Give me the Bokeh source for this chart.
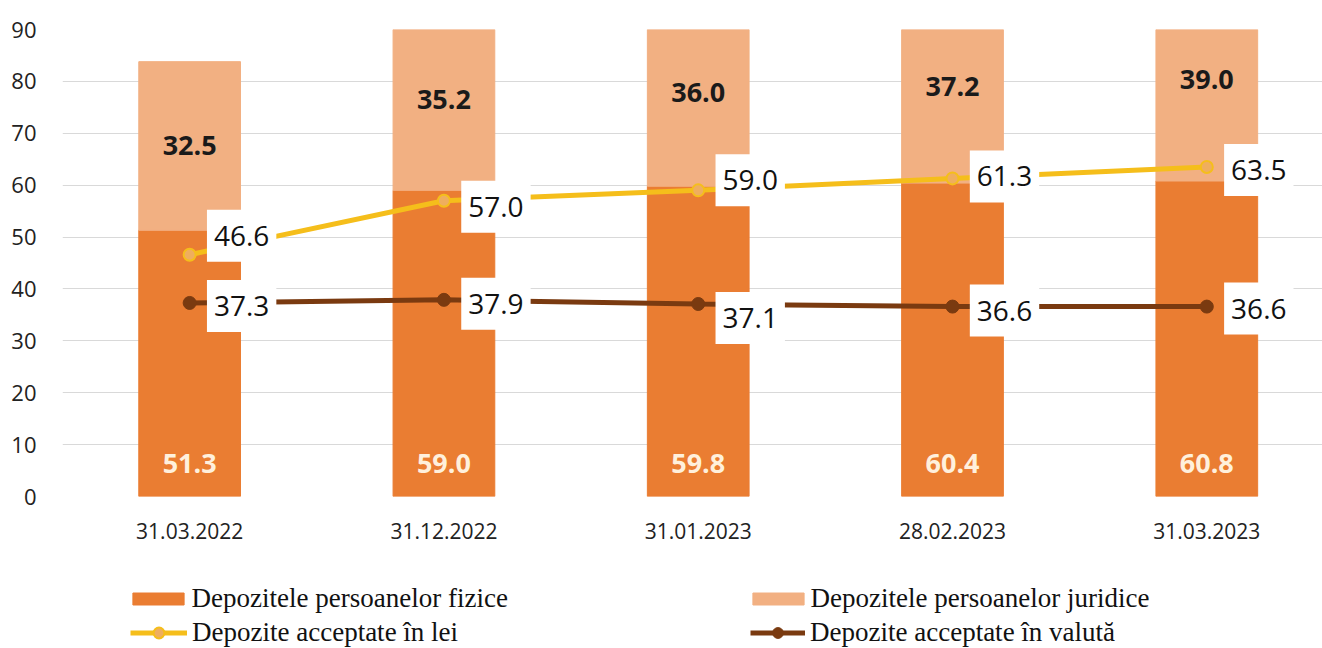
import numpy as np
from bokeh.plotting import figure
from bokeh.layouts import column
from bokeh.models import (ColumnDataSource, Range1d, FixedTicker, Label, Legend,
                          LegendItem, LabelSet)
from bokeh.core.properties import value
from bokeh.embed import file_html
from bokeh.resources import INLINE

# ---- data ----
dates = ["31.03.2022", "31.12.2022", "31.01.2023", "28.02.2023", "31.03.2023"]
fizice = [51.3, 59.0, 59.8, 60.4, 60.8]
juridice = [32.5, 35.2, 36.0, 37.2, 39.0]
lei = [46.6, 57.0, 59.0, 61.3, 63.5]
valuta = [37.3, 37.9, 37.1, 36.6, 36.6]
y_ticks = [0, 10, 20, 30, 40, 50, 60, 70, 80, 90]

# ---- style ----
C_FIZ = "#EA7D32"
C_JUR = "#F2B082"
C_LEI = "#F5BE1B"
C_LEI_M = "#EFAE5E"
C_VAL = "#7A3A10"
SANS = "Open Sans"
SERIF = "Liberation Serif"
lei_dy = [19, -6, 10, 2, -3]       # label offsets (px) for readability
val_dy = [-3, -4, -14, -4, -2]

x = np.arange(len(dates))
fiz = np.array(fizice)
jur = np.array(juridice)

src = ColumnDataSource(dict(
    x=x, fiz=fiz, top=fiz + jur, jur=jur, jur_mid=fiz + jur / 2,
    fiz_lbl=[f"{v:.1f}" for v in fizice], jur_lbl=[f"{v:.1f}" for v in juridice],
    fiz_y=[6.3] * len(x),
))

p = figure(width=1322, height=548, output_backend="svg", toolbar_location=None,
           x_range=Range1d(-0.5, 4.455), y_range=Range1d(0, 90),
           min_border_left=62, min_border_right=0, min_border_top=29,
           min_border_bottom=52)
p.outline_line_color = None
p.background_fill_color = "white"
p.border_fill_color = "white"

p.vbar(x="x", bottom=0, top="fiz", width=0.4, color=C_FIZ, source=src)
p.vbar(x="x", bottom="fiz", top="top", width=0.4, color=C_JUR, source=src)

p.line(x, lei, line_color=C_LEI, line_width=5)
p.scatter(x, lei, size=12, fill_color=C_LEI_M, line_color=C_LEI, line_width=2)
p.line(x, valuta, line_color=C_VAL, line_width=5)
p.scatter(x, valuta, size=13, fill_color=C_VAL, line_color=C_VAL)

# bar labels
p.add_layout(LabelSet(x="x", y="fiz_y", text="fiz_lbl", source=src, text_align="center",
                      text_baseline="middle", text_font=value(SANS), text_font_size="27px",
                      text_font_style="bold", text_color="#FFF0DC"))
p.add_layout(LabelSet(x="x", y="jur_mid", text="jur_lbl", source=src, text_align="center",
                      text_baseline="middle", text_font=value(SANS), text_font_size="27px",
                      text_font_style="bold", text_color="#1a1a1a"))

# line labels with white boxes
PAD = dict(left=7, right=7, top=16, bottom=16)
for xi, v, dy in zip(x, lei, lei_dy):
    p.add_layout(Label(x=xi, y=v, text=f"{v:.1f}", x_offset=52, y_offset=dy,
                       text_align="center", text_baseline="middle", text_font=SANS,
                       text_font_size="28px", text_color="#111111",
                       background_fill_color="white", padding=PAD))
for xi, v, dy in zip(x, valuta, val_dy):
    p.add_layout(Label(x=xi, y=v, text=f"{v:.1f}", x_offset=52, y_offset=dy,
                       text_align="center", text_baseline="middle", text_font=SANS,
                       text_font_size="28px", text_color="#111111",
                       background_fill_color="white", padding=PAD))

# axes
p.xaxis.ticker = FixedTicker(ticks=list(x))
p.xaxis.major_label_overrides = {int(i): d for i, d in zip(x, dates)}
p.yaxis.ticker = FixedTicker(ticks=y_ticks)
for ax in (p.xaxis, p.yaxis):
    ax.axis_line_color = None
    ax.major_tick_line_color = None
    ax.minor_tick_line_color = None
    ax.major_label_text_font = SANS
    ax.major_label_text_color = "#222222"
p.xaxis.major_label_text_font_size = "21px"
p.yaxis.major_label_text_font_size = "22px"
p.xaxis.major_label_standoff = 20
p.yaxis.major_label_standoff = 20
p.xgrid.grid_line_color = None
p.ygrid.grid_line_color = "#D9D9D9"
p.ygrid.grid_line_width = 1
p.ygrid.ticker = FixedTicker(ticks=y_ticks)

# ---- legend strip (separate figure; its glyphs lie outside its ranges) ----
leg = figure(width=1322, height=100, output_backend="svg", toolbar_location=None,
             x_range=Range1d(100, 101), y_range=Range1d(100, 101),
             x_axis_type=None, y_axis_type=None, min_border=0)
leg.outline_line_color = None
leg.xgrid.visible = False
leg.ygrid.visible = False
l_fiz = leg.vbar(x=x, top=fiz, width=0.4, color=C_FIZ)
l_jur = leg.vbar(x=x, top=fiz + jur, width=0.4, color=C_JUR)
l_lei_l = leg.line(x, lei, line_color=C_LEI, line_width=5)
l_lei_m = leg.scatter(x, lei, size=12, fill_color=C_LEI_M, line_color=C_LEI, line_width=2)
l_val_l = leg.line(x, valuta, line_color=C_VAL, line_width=5)
l_val_m = leg.scatter(x, valuta, size=13, fill_color=C_VAL, line_color=C_VAL)

def mk_legend(label, renderers, loc, gw, gh, standoff):
    return Legend(items=[LegendItem(label=label, renderers=renderers)], location=loc,
                  orientation="vertical", background_fill_alpha=0, border_line_color=None,
                  padding=0, margin=0, spacing=0, glyph_width=gw, glyph_height=gh,
                  label_height=31, label_standoff=standoff, label_text_font=SERIF,
                  label_text_font_size="27px", label_text_color="#111111")

leg.add_layout(mk_legend("Depozitele persoanelor fizice", [l_fiz], (63.6, 34.5), 64, 15, 2))
leg.add_layout(mk_legend("Depozite acceptate în lei", [l_lei_l, l_lei_m], (68, 0), 57, 27, 5))
leg.add_layout(mk_legend("Depozitele persoanelor juridice", [l_jur], (683.6, 34.5), 64, 15, 1))
leg.add_layout(mk_legend("Depozite acceptate în valută", [l_val_l, l_val_m], (688, 0), 55, 27, 5))

open("out.html", "w").write(file_html(column(p, leg, spacing=0), INLINE))
